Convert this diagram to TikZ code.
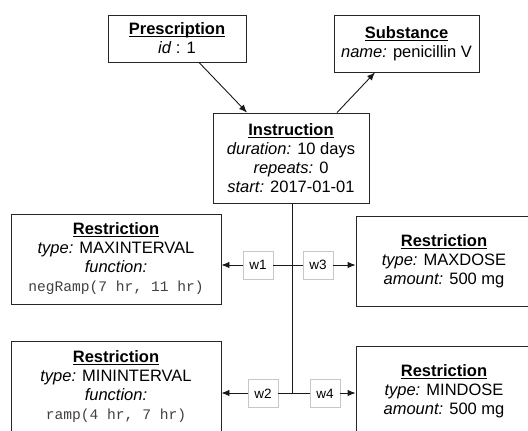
\documentclass[tikz,border=0pt]{standalone}
\usepackage{fontspec}
\setmainfont{Liberation Sans}
\setmonofont{Liberation Mono}
\usetikzlibrary{arrows.meta}
\newcommand\hdr[1]{\leavevmode\setbox0\hbox{\textbf{#1}}\rlap{\rule[-2.2pt]{\wd0}{0.9pt}}\box0}
\newcommand\fn[1]{{\fontsize{14.6}{19}\selectfont\ttfamily\color{black!75}#1}}
\tikzset{
  box/.style={draw=black!85, line width=0.9pt, align=center, inner sep=0pt,
    font=\fontsize{16.5}{19}\selectfont},
  wlab/.style={draw=black!22, line width=0.8pt, fill=white, minimum width=30pt,
    minimum height=28pt, inner sep=0pt, font=\fontsize{13.5}{16}\selectfont},
  conn/.style={line width=0.9pt, black!90},
  arr/.style={conn, -{Latex[length=8pt,width=6.5pt]}}
}
\begin{document}
\begin{tikzpicture}[x=1pt,y=-1pt]
\useasboundingbox (0,0) rectangle (528,431);
\clip (0,0) rectangle (528,431);
\node[box, minimum width=138pt, minimum height=47pt] (P) at (177,38.5)
  {\hdr{Prescription}\\\textit{id} : 1};
\node[box, minimum width=145pt, minimum height=57pt] (S) at (406.5,43.5)
  {\hdr{Substance}\\\textit{name:} penicillin V};
\node[box, minimum width=156pt, minimum height=90pt] (I) at (291,158)
  {\hdr{Instruction}\\\textit{duration:} 10 days\\\textit{repeats:} 0\\\textit{start:} 2017-01-01};
\node[box, minimum width=210pt, minimum height=90pt] (R1) at (116,259)
  {\hdr{Restriction}\\\textit{type:} MAXINTERVAL\\\textit{function:}\\\fn{negRamp(7 hr, 11 hr)}};
\node[box, minimum width=176pt, minimum height=90pt] (R3) at (444,261)
  {\hdr{Restriction}\\\textit{type:} MAXDOSE\\\textit{amount:} 500 mg};
\node[box, minimum width=210pt, minimum height=92pt] (R2) at (116,387)
  {\hdr{Restriction}\\\textit{type:} MININTERVAL\\\textit{function:}\\\fn{ramp(4 hr, 7 hr)}};
\node[box, minimum width=176pt, minimum height=90pt] (R4) at (444,391)
  {\hdr{Restriction}\\\textit{type:} MINDOSE\\\textit{amount:} 500 mg};

\draw[arr] ([xshift=22pt]P.south) -- ([xshift=-44pt]I.north);
\draw[arr] ([xshift=46pt]I.north) -- ([xshift=-31.5pt]S.south);

\coordinate (J1) at (292,265);
\coordinate (J2) at (292,393);
\draw[conn] ([xshift=1pt]I.south) -- (J2);

\node[wlab] (W1) at (258,265) {w1};
\node[wlab] (W3) at (318,265) {w3};
\node[wlab] (W2) at (263,393.5) {w2};
\node[wlab] (W4) at (325,393.5) {w4};

\draw[conn] (J1) -- (W1.east);
\draw[arr] (W1.west) -- (R1.east |- W1.west);
\draw[conn] (J1) -- (W3.west);
\draw[arr] (W3.east) -- (R3.west |- W3.east);
\draw[conn] (J2) -- (W2.east |- J2);
\draw[arr] (W2.west |- J2) -- (R2.east |- J2);
\draw[conn] (J2) -- (W4.west |- J2);
\draw[arr] (W4.east |- J2) -- (R4.west |- J2);
\end{tikzpicture}
\end{document}
